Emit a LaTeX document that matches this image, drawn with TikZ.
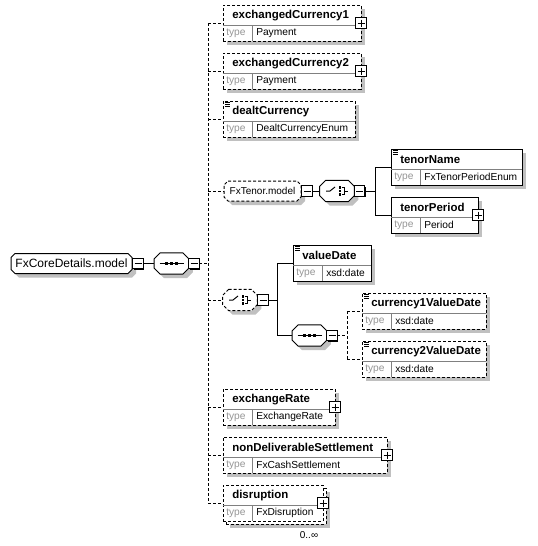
\documentclass[tikz,border=0pt]{standalone}
\usepackage{fontspec}
\setmainfont{Liberation Sans}
\usetikzlibrary{shadows}

\definecolor{shadowgray}{RGB}{192,192,192}
\definecolor{typegray}{RGB}{150,150,150}
\definecolor{linegray}{RGB}{128,128,128}

\tikzset{
  boxshadow/.style={drop shadow={shadow xshift=3pt, shadow yshift=-3pt, fill=shadowgray, opacity=1}},
  opt/.style={dash pattern=on 2.25pt off 1.5pt},
  elembox/.style={draw, fill=white, rectangle, inner sep=0pt, outer sep=0pt, line width=0.75pt,
    minimum height=27pt, anchor=north west, boxshadow},
  slot/.style={inner sep=0pt, outer sep=0pt},
  compslot/.style={slot, minimum width=26pt, minimum height=16pt},
  pmbox/.style={draw, fill=white, inner sep=0pt, outer sep=0pt, line width=0.75pt, minimum size=8pt,
    drop shadow={shadow xshift=0.75pt, shadow yshift=-0.75pt, fill=black, opacity=1}},
  namelbl/.style={anchor=west, inner sep=0pt, font=\fontsize{8.6}{10}\selectfont\bfseries},
  typelbl/.style={anchor=west, inner sep=0pt, text=typegray, font=\fontsize{7.65}{9}\selectfont},
  typeval/.style={anchor=west, inner sep=0pt, font=\fontsize{7.65}{9}\selectfont},
  divline/.style={linegray, line width=0.75pt},
  conn/.style={line width=0.75pt},
}

% element box: [style] name, left, top, width, element, type
\newcommand\elem[7][]{%
  \node[#1,elembox,minimum width={#5*0.75pt}] (#2) at (#3,#4) {};
  \draw[divline] ([shift={(0,20)}]#2.north west) -- ([shift={(0,20)}]#2.north east);
  \draw[divline] ([shift={(29,20)}]#2.north west) -- ([shift={(29,0)}]#2.south west);
  \node[namelbl] (#2-name) at ([shift={(9,10.5)}]#2.north west) {#6};
  \node[typelbl] (#2-tlbl) at ([shift={(3,28)}]#2.north west) {type};
  \node[typeval] (#2-type) at ([shift={(33,28)}]#2.north west) {#7};
}
% octagon round a slot node: node, chamfer x, chamfer y, offset
\newcommand\octpts[4]{([shift={(#2+#4,#4)}]#1.north west) -- ([shift={(-#2+#4,#4)}]#1.north east)
  -- ([shift={(#4,#3+#4)}]#1.north east) -- ([shift={(#4,-#3+#4)}]#1.south east)
  -- ([shift={(-#2+#4,#4)}]#1.south east) -- ([shift={(#2+#4,#4)}]#1.south west)
  -- ([shift={(#4,-#3+#4)}]#1.south west) -- ([shift={(#4,#3+#4)}]#1.north west) -- cycle}
\newcommand\octo[4][]{%
  \fill[shadowgray] \octpts{#2}{#3}{#4}{4};
  \draw[conn,fill=white,#1] \octpts{#2}{#3}{#4}{0};
}
\newcommand\docicon[1]{%
  \foreach \d in {1.5,3.5,5.5}
    \draw[line width=0.6pt] ([shift={(2,\d)}]#1.north west) -- ++(5,0);
}
\newcommand\plusbox[1]{%
  \node[pmbox] (#1-pm) at (#1.east) {};
  \draw[line width=0.75pt] ([shift={(-3.5,0)}]#1-pm.center) -- ([shift={(3.5,0)}]#1-pm.center)
    ([shift={(0,-3.5)}]#1-pm.center) -- ([shift={(0,3.5)}]#1-pm.center);
}
\newcommand\minusbox[2]{%
  \node[pmbox] (#1) at #2 {};
  \draw[line width=0.75pt] ([shift={(-3.5,0)}]#1.center) -- ([shift={(3.5,0)}]#1.center);
}
\newcommand\seqicon[1]{%
  \draw[line width=0.75pt] ([shift={(-12,0)}]#1.center) -- ([shift={(12,0)}]#1.center);
  \foreach \s in {-5,0,5}
    \fill ([shift={(\s-1.5,-1.5)}]#1.center) rectangle ++(3,3);
}
\newcommand\choiceicon[1]{%
  \draw[line width=0.75pt] ([shift={(-11,0)}]#1.center) -- ++(4,0) -- ++(5,-4);
  \foreach \s in {-3.5,0,3.5}
    \fill ([shift={(1.5,\s-1.25)}]#1.center) rectangle ++(2.5,2.5);
  \draw[line width=0.75pt] ([shift={(4.5,-3.5)}]#1.center) -- ++(2.5,0) -- ++(0,7) -- ++(-2.5,0)
    ([shift={(7,0)}]#1.center) -- ++(4,0);
}

\begin{document}
\begin{tikzpicture}[x=0.75pt, y=-0.75pt]
  \useasboundingbox[fill=white] (0,0) rectangle (537,546);

  % root group and first sequence
  \node[slot, minimum width={121*0.75pt}, minimum height={20*0.75pt}] (root) at (71.5,263.5) {};
  \octo{root}{4}{4}
  \node[font=\fontsize{9}{11}\selectfont] (root-txt) at (root.center) {FxCoreDetails.model};
  \minusbox{root-pm}{(138,263.5)}
  \node[compslot] (seq1) at (171.5,263.5) {};
  \octo{seq1}{6}{6}
  \seqicon{seq1}
  \minusbox{seq1-pm}{(194,263.5)}
  \draw[conn] (root-pm.east) -- (seq1.west);
  \coordinate (trunk) at (208,263.5);

  % children of the sequence
  \elem[opt]{ec1}{223}{5}{138}{exchangedCurrency1}{Payment}
  \plusbox{ec1}
  \elem[opt]{ec2}{223}{53}{138}{exchangedCurrency2}{Payment}
  \plusbox{ec2}
  \elem[opt]{dc}{223}{101}{132}{dealtCurrency}{DealtCurrencyEnum}
  \docicon{dc}

  \node[slot, minimum width={77*0.75pt}, minimum height={20*0.75pt}] (tenor) at (262.5,191) {};
  \octo[opt]{tenor}{4}{4}
  \node[font=\fontsize{7.5}{9}\selectfont] (tenor-txt) at (tenor.center) {FxTenor.model};
  \minusbox{tenor-pm}{(307,191)}
  \node[compslot] (choice1) at (337,191) {};
  \octo{choice1}{6}{6}
  \choiceicon{choice1}
  \minusbox{choice1-pm}{(359.5,191)}
  \elem{tn}{391}{149}{131}{tenorName}{FxTenorPeriodEnum}
  \docicon{tn}
  \elem{tp}{391}{197}{87}{tenorPeriod}{Period}
  \plusbox{tp}
  \coordinate (br1) at (375,191);
  \draw[conn] (tenor-pm.east) -- (choice1.west);
  \draw[conn] (choice1-pm.east) -- (br1);
  \draw[conn] (br1 |- tn.west) -- (br1 |- tp.west);
  \draw[conn] (br1 |- tn.west) -- (tn.west);
  \draw[conn] (br1 |- tp.west) -- (tp.west);

  \node[compslot] (choice2) at (240,300) {};
  \octo[opt]{choice2}{6}{6}
  \choiceicon{choice2}
  \minusbox{choice2-pm}{(263,300)}
  \elem{vd}{293}{245}{78}{valueDate}{xsd:date}
  \docicon{vd}
  \node[compslot] (seq2) at (309.5,335.5) {};
  \octo{seq2}{6}{6}
  \seqicon{seq2}
  \minusbox{seq2-pm}{(332,335.5)}
  \coordinate (br2) at (277,300);
  \draw[conn] (choice2-pm.east) -- (br2);
  \draw[conn] (br2 |- vd.west) -- (br2 |- seq2.west);
  \draw[conn] (br2 |- vd.west) -- (vd.west);
  \draw[conn] (br2 |- seq2.west) -- (seq2.west);

  \elem[opt]{c1}{362}{293}{124}{currency1ValueDate}{xsd:date}
  \docicon{c1}
  \elem[opt]{c2}{362}{341}{124}{currency2ValueDate}{xsd:date}
  \docicon{c2}
  \coordinate (br3) at (347,335.5);
  \draw[conn,opt] (seq2-pm.east) -- (br3);
  \draw[conn,opt] (br3 |- c1.west) -- (br3 |- c2.west);
  \draw[conn,opt] (br3 |- c1.west) -- (c1.west);
  \draw[conn,opt] (br3 |- c2.west) -- (c2.west);

  \elem[opt]{er}{223}{389}{112}{exchangeRate}{ExchangeRate}
  \plusbox{er}
  \elem[opt]{nds}{223}{437}{164}{nonDeliverableSettlement}{FxCashSettlement}
  \plusbox{nds}
  \node[opt, elembox, minimum width={100*0.75pt}] (dis-back) at (226,488) {};
  \elem[opt, boxshadow/.style={}]{dis}{223}{485}{100}{disruption}{FxDisruption}
  \plusbox{dis}
  \node[inner sep=0pt, font=\fontsize{7.5}{9}\selectfont] (dis-occ) at (309,535) {0..∞};

  % trunk
  \draw[conn,opt] (seq1-pm.east) -- (trunk);
  \draw[conn,opt] (trunk |- ec1.west) -- (trunk |- dis.west);
  \foreach \c in {ec1,ec2,dc,tenor,choice2,er,nds,dis}
    \draw[conn,opt] (trunk |- \c.west) -- (\c.west);
\end{tikzpicture}
\end{document}
